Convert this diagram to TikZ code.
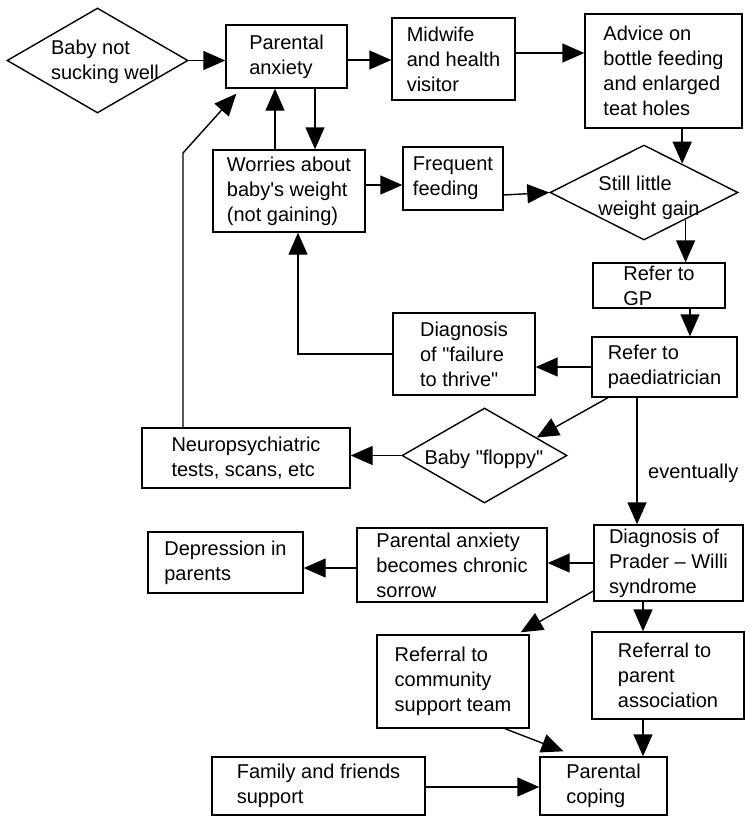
\documentclass[tikz,border=0pt]{standalone}
\usepackage{fontspec}
\setmainfont{Liberation Sans}
\usetikzlibrary{shapes.geometric,arrows.meta,calc}
\newcommand{\qq}{\textquotedbl}
\newcommand{\qs}{\textquotesingle}
\begin{document}
\begin{tikzpicture}[x=1pt,y=-1pt,
 every node/.style={font=\fontsize{20}{25}\selectfont},
 box/.style={draw, line width=1.4pt, align=left, inner sep=2pt},
 dia/.style={draw, diamond, line width=1.4pt, inner sep=0pt},
 txt/.style={align=left, inner sep=0pt},
 arr/.style={line width=1.4pt, -{Triangle[length=22pt,width=19pt]}}]
\useasboundingbox (0,0) rectangle (750,816);
% diamonds
\node[dia, minimum width=181pt, minimum height=105pt] (d1) at (97.5,60.5) {};
\node[txt] (d1t) at (105,62) {Baby not\\sucking well};
\node[dia, minimum width=188pt, minimum height=95pt] (d2) at (644,192.5) {};
\node[txt] (d2t) at (649,198) {Still little\\weight gain};
\node[dia, minimum width=165pt, minimum height=95pt] (d3) at (484.5,455.5) {};
\node[txt] (d3t) at (484,459) {Baby \qq floppy\qq};
% boxes
\node[box, minimum width=121pt, minimum height=63pt] (anx) at (286.5,56.5) {Parental\\anxiety};
\node[box, minimum width=123pt, minimum height=82pt] (mid) at (453.5,59) {Midwife\\and health\\visitor};
\node[box, minimum width=157pt, minimum height=114pt] (adv) at (663.5,71) {Advice on\\bottle feeding\\and enlarged\\teat holes};
\node[box, minimum width=152pt, minimum height=82pt] (wor) at (289,191) {Worries about\\baby\qs s weight\\(not gaining)};
\node[box, minimum width=100pt, minimum height=63pt] (frq) at (453,178.5) {Frequent\\feeding};
\node[box, minimum width=132pt, minimum height=45pt] (gp) at (659,285.5) {Refer to\\GP};
\node[box, minimum width=145pt, minimum height=60pt] (paed) at (664.5,367) {Refer to\\paediatrician};
\node[box, minimum width=142pt, minimum height=82pt] (fail) at (464,354) {Diagnosis\\of \qq failure\\to thrive\qq};
\node[box, minimum width=208pt, minimum height=60pt] (neu) at (246,458) {Neuropsychiatric\\tests, scans, etc};
\node[box, minimum width=149pt, minimum height=76pt] (pw) at (668.5,563) {Diagnosis of\\Prader -- Willi\\syndrome};
\node[box, minimum width=190pt, minimum height=74pt] (chr) at (452,565) {Parental anxiety\\becomes chronic\\sorrow};
\node[box, minimum width=155pt, minimum height=61pt] (dep) at (225.5,562.5) {Depression in\\parents};
\node[box, minimum width=152pt, minimum height=93pt] (com) at (453,681.5) {Referral to\\community\\support team};
\node[box, minimum width=152pt, minimum height=87pt] (pa) at (668,675.5) {Referral to\\parent\\association};
\node[box, minimum width=127pt, minimum height=58pt] (cop) at (603.5,786) {Parental\\coping};
\node[box, minimum width=213pt, minimum height=58pt] (fam) at (318.5,786) {Family and friends\\support};
\node[txt, anchor=west] (ev) at (648,473) {eventually};
\coordinate (bend) at (183,153);
% connectors
\draw[arr] (d1.east) -- (anx.west |- d1.east);
\draw[arr] ([yshift=-3.5pt]anx.east) -- ([yshift=-3.5pt]anx.east -| mid.west);
\draw[arr] ([yshift=6pt]mid.east) -- ([yshift=6pt]mid.east -| adv.west);
\draw[arr] ([xshift=28.5pt]anx.south) -- ([xshift=28.5pt]anx.south |- wor.north);
\draw[arr] ([xshift=-14pt]wor.north) -- ([xshift=-14pt]wor.north |- anx.south);
\draw[arr] ([yshift=6pt]wor.east) -- ([yshift=6pt]wor.east -| frq.west);
\draw[arr] ([yshift=-16.5pt]frq.east) -- (d2.west);
\draw[arr] (adv.south -| d2.37) -- (d2.37);
\draw[arr] (d2.-33) -- (d2.-33 |- gp.north);
\draw[arr] ([xshift=31pt]gp.south) -- ([xshift=31pt]gp.south |- paed.north);
\draw[arr] (paed.west) -- (paed.west -| fail.east);
\draw[arr] (fail.west) -| ([xshift=9pt]wor.south);
\draw[arr] ([xshift=-56.5pt]paed.south) -- (d3.19);
\draw[arr] (d3.west) -- (d3.west -| neu.east);
\draw[arr] ([xshift=-63pt]neu.north) -- (bend) -- ([xshift=11pt,yshift=-5pt]anx.south west);
\draw[arr] ([xshift=-27.5pt]paed.south) -- ([xshift=-27.5pt]paed.south |- pw.north);
\draw[arr] (pw.west) -- (pw.west -| chr.east);
\draw[arr] ([yshift=-3pt]chr.west) -- ([yshift=-3pt]chr.west -| dep.east);
\draw[arr] ([yshift=-28pt]pw.west) -- ([xshift=-9pt,yshift=2pt]com.north east);
\draw[arr] ([xshift=-25.5pt]pw.south) -- ([xshift=-25.5pt]pw.south |- pa.north);
\draw[arr] ([xshift=-25pt]pa.south) -- ([xshift=-25pt]pa.south |- cop.north);
\draw[arr] ([xshift=52pt]com.south) -- ([xshift=-40pt,yshift=5pt]cop.north);
\draw[arr] ([yshift=-1pt]fam.east) -- ([yshift=-1pt]fam.east -| cop.west);
\end{tikzpicture}
\end{document}
